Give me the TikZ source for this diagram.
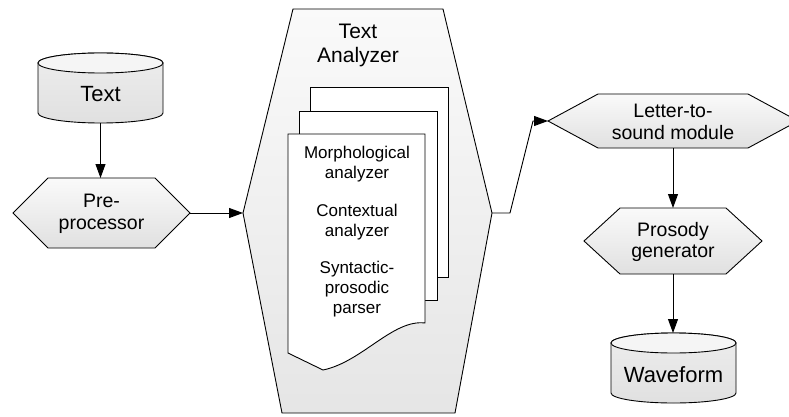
\documentclass[tikz,border=0pt]{standalone}
\usepackage{fontspec}
\setmainfont{Liberation Sans}
\usetikzlibrary{arrows.meta}
\tikzset{
  shp/.style={draw=black, line width=0.9pt, line join=miter},
  hexfill/.style={shp, top color=gray!4, bottom color=gray!24},
  bigfill/.style={shp, top color=gray!4, bottom color=gray!20},
  cylfill/.style={shp, top color=gray!14, bottom color=gray!24},
  docfill/.style={shp, fill=white},
  conn/.style={draw=black, line width=0.9pt, -{Triangle[length=14pt,width=10pt]}},
  lblhex/.style={align=center, font=\fontsize{19.5}{21.5}\selectfont, inner sep=0pt},
  lblcyl/.style={align=center, font=\fontsize{22}{24}\selectfont, inner sep=0pt},
  lbltitle/.style={align=center, font=\fontsize{21}{24}\selectfont, inner sep=0pt},
  lbldoc/.style={align=center, font=\fontsize{17}{20}\selectfont, inner sep=0pt}
}
\begin{document}
\begin{tikzpicture}[x=1pt, y=-1pt]
\useasboundingbox (0,0) rectangle (789,417);
\clip (0,0) rectangle (789,417);

% ---- Text cylinder
\path[cylfill] (38,63) -- (38,113) arc[start angle=180, end angle=0, x radius=62.5, y radius=10]
  -- (163,63) arc[start angle=0, end angle=-180, x radius=62.5, y radius=10] -- cycle;
\draw[shp, fill=gray!8] (100.5,63) ellipse [x radius=62.5, y radius=10];
\node[lblcyl] (text) at (100.5,94) {Text};
\coordinate (text-s) at (100.5,123);

% ---- Pre-processor
\path[hexfill] (13,213) -- (48,178) -- (155,178) -- (190,213) -- (155,248) -- (48,248) -- cycle;
\node[lblhex] (pre) at (101.5,214) {Pre-\\processor};
\coordinate (pre-n) at (100.5,178);
\coordinate (pre-e) at (190,213);

% ---- Text Analyzer
\path[bigfill] (243,213) -- (293,9) -- (443,9) -- (492,213) -- (455,413) -- (282,413) -- cycle;
\node[lbltitle] (ta) at (358,45) {Text\\Analyzer};
\coordinate (ta-w) at (243,213);
\coordinate (ta-e) at (492,213);

% documents
\path[docfill] (310,87) rectangle (448,277);
\path[docfill] (299,111) rectangle (437,300);
\path[docfill] (288,134) -- (425,134) -- (425,323)
  .. controls (393,319) and (362,362) .. (323,370) -- (288,353) -- cycle;
\node[lbldoc] (morph) at (357,164) {Morphological\\analyzer};
\node[lbldoc] (ctx) at (357,222) {Contextual\\analyzer};
\node[lbldoc] (syn) at (357,289) {Syntactic-\\prosodic\\parser};

% ---- Letter-to-sound module
\path[hexfill] (548,121) -- (598,94) -- (748,94) -- (798,121) -- (748,148) -- (598,148) -- cycle;
\node[lblhex] (lts) at (673,122) {Letter-to-\\sound module};
\coordinate (lts-w) at (548,121);
\coordinate (lts-s) at (673,148);

% ---- Prosody generator
\path[hexfill] (584,241) -- (620,208) -- (726,208) -- (762,241) -- (726,274) -- (620,274) -- cycle;
\node[lblhex] (pros) at (673,242) {Prosody\\generator};
\coordinate (pros-n) at (673,208);
\coordinate (pros-s) at (673,274);

% ---- Waveform cylinder
\path[cylfill] (611,343) -- (611,393) arc[start angle=180, end angle=0, x radius=62.5, y radius=10]
  -- (736,343) arc[start angle=0, end angle=-180, x radius=62.5, y radius=10] -- cycle;
\draw[shp, fill=gray!8] (673.5,343) ellipse [x radius=62.5, y radius=10];
\node[lblcyl] (wave) at (673.5,375) {Waveform};
\coordinate (wave-n) at (673,333);

% ---- connectors
\coordinate (b1) at (510,213);
\coordinate (b2) at (533,121);
\draw[conn] (text-s) -- (pre-n);
\draw[conn] (pre-e) -- (ta-w);
\draw[conn] (ta-e) -- (b1) -- (b2) -- (lts-w);
\draw[conn] (lts-s) -- (pros-n);
\draw[conn] (pros-s) -- (wave-n);
\end{tikzpicture}
\end{document}
